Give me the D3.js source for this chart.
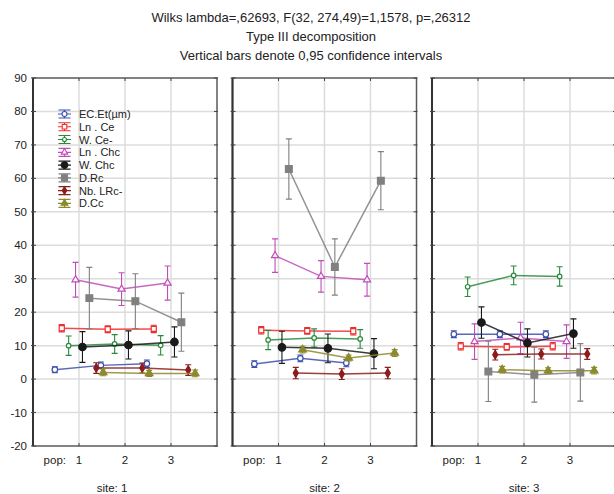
<!DOCTYPE html>
<html>
<head>
<meta charset="utf-8">
<script src="https://cdn.jsdelivr.net/npm/d3@7"></script>
<style>
  body { margin: 0; background: #fff; }
  text { font-family: "Liberation Sans", Arial, sans-serif; fill: #222; }
</style>
</head>
<body>
<div id="chart"></div>
<script>
const titleLines = [
    "Wilks lambda=,62693, F(32, 274,49)=1,1578, p=,26312",
    "Type III decomposition",
    "Vertical bars denote 0,95 confidence intervals"
];
const sites = ["site: 1", "site: 2", "site: 3"];
const pops = [1, 2, 3];
const yTicks = [-20, -10, 0, 10, 20, 30, 40, 50, 60, 70, 80, 90];
const seriesNames = ["EC.Et(µm)", "Ln . Ce", "W. Ce-", "Ln . Chc", "W. Chc", "D.Rc", "Nb. LRc-", "D.Cc"];

// means, one row per series, pop 1..3
const meansSite1 = [
    [2.8, 4.1, 4.6], [15.2, 14.9, 15.0], [10.0, 10.5, 10.1], [29.7, 26.9, 28.7],
    [9.6, 10.2, 11.1], [24.2, 23.3, 17.0], [3.3, 3.3, 2.7], [2.0, 1.7, 1.7]
];
const meansSite2 = [
    [4.5, 6.2, 4.8], [14.6, 14.4, 14.3], [11.7, 12.3, 12.0], [36.9, 30.7, 29.7],
    [9.5, 9.2, 7.6], [62.8, 33.5, 59.3], [1.8, 1.5, 1.8], [8.8, 6.3, 7.8]
];
const meansSite3 = [
    [13.4, 13.4, 13.4], [9.8, 9.6, 9.8], [27.6, 31.0, 30.7], [11.2, 12.3, 11.2],
    [16.9, 10.8, 13.6], [2.3, 1.3, 2.0], [7.3, 7.5, 7.5], [2.8, 2.5, 2.5]
];
// half width of the 0,95 confidence interval
const ciSite1 = [
    [0.9, 1.0, 1.1], [1.1, 1.0, 1.1], [2.9, 2.8, 2.9], [5.2, 4.9, 5.1],
    [4.6, 4.2, 4.5], [9.2, 8.2, 8.7], [1.6, 1.5, 1.6], [1.0, 0.9, 1.0]
];
const ciSite2 = [
    [1.0, 1.0, 1.1], [1.1, 1.0, 1.1], [2.9, 2.7, 2.8], [5.0, 4.7, 4.9],
    [4.8, 4.3, 4.5], [9.0, 8.4, 8.7], [1.7, 1.6, 1.7], [1.0, 0.9, 1.0]
];
const ciSite3 = [
    [1.0, 1.0, 1.0], [1.1, 1.0, 1.1], [2.9, 2.8, 2.9], [5.3, 4.7, 5.0],
    [4.7, 4.2, 4.4], [9.0, 8.2, 8.6], [1.6, 1.5, 1.6], [1.0, 0.9, 1.0]
];
const meansBySite = [meansSite1, meansSite2, meansSite3];
const ciBySite = [ciSite1, ciSite2, ciSite3];

const colors = ["#3a4fb0", "#f02c2c", "#2a8a3c", "#c04cba", "#1a1a1a", "#808080", "#8c1c1c", "#8c8a2c"];
const shapes = [d3.symbolCircle, d3.symbolSquare, d3.symbolCircle, d3.symbolTriangle,
                d3.symbolCircle, d3.symbolSquare, d3.symbolDiamond, d3.symbolTriangle];
const sizes = [24, 26, 16, 22, 44, 46, 22, 26];
const filled = [false, false, false, false, true, true, true, true];

const W = 614, H = 494;
const panelW = 184, gap = 15.5, left0 = 33;
const dodge = 0.15;

const svg = d3.select("#chart").append("svg")
    .attr("width", W)
    .attr("height", H);

svg.selectAll(".title")
    .data(titleLines)
    .enter()
    .append("text")
    .attr("class", "title")
    .attr("x", 311)
    .attr("y", (d, i) => 22 + i * 19)
    .attr("text-anchor", "middle")
    .style("font-size", "13px")
    .text(d => d);

const y = d3.scaleLinear().domain([-20, 90]).range([446, 78]);

// y labels on the first panel only
svg.selectAll(".ylab")
    .data(yTicks)
    .enter()
    .append("text")
    .attr("class", "ylab")
    .attr("x", 27)
    .attr("y", d => y(d) + 4)
    .attr("text-anchor", "end")
    .style("font-size", "11.5px")
    .text(d => d);

sites.forEach((site, si) => {
    const px = left0 + si * (panelW + gap);
    const x = d3.scaleLinear().domain([0, 4]).range([px, px + panelW]);
    const g = svg.append("g");

    // grid
    g.selectAll(".hgrid")
        .data(yTicks.filter(d => d > -20 && d < 90))
        .enter()
        .append("line")
        .attr("x1", x(0)).attr("x2", x(4))
        .attr("y1", d => y(d)).attr("y2", d => y(d))
        .attr("stroke", "#dcdcdc")
        .attr("stroke-width", 1.5);

    g.selectAll(".vgrid")
        .data(pops)
        .enter()
        .append("line")
        .attr("x1", d => x(d)).attr("x2", d => x(d))
        .attr("y1", y(90)).attr("y2", y(-20))
        .attr("stroke", "#dcdcdc")
        .attr("stroke-width", 1.5);

    // frame
    g.append("rect")
        .attr("x", x(0)).attr("y", y(90))
        .attr("width", x(4) - x(0)).attr("height", y(-20) - y(90))
        .attr("fill", "none")
        .attr("stroke", "#5a5a5a")
        .attr("stroke-width", 1.5);
    g.append("line")
        .attr("x1", x(0)).attr("x2", x(0))
        .attr("y1", y(90)).attr("y2", y(-20))
        .attr("stroke", "#333")
        .attr("stroke-width", 2);

    // small ticks on the frame
    g.selectAll(".ytk")
        .data(yTicks)
        .enter()
        .append("path")
        .attr("d", d => `M${x(0) - 2},${y(d)}H${x(0) + 3}M${x(4) - 3},${y(d)}H${x(4) + 1}`)
        .attr("stroke", "#444")
        .attr("stroke-width", 1);
    g.selectAll(".xtk")
        .data(pops)
        .enter()
        .append("path")
        .attr("d", d => `M${x(d)},${y(90)}v3M${x(d)},${y(-20)}v-3`)
        .attr("stroke", "#444")
        .attr("stroke-width", 1);

    // pop labels
    g.selectAll(".poplab")
        .data(pops)
        .enter()
        .append("text")
        .attr("x", d => x(d))
        .attr("y", 464)
        .attr("text-anchor", "middle")
        .style("font-size", "11.5px")
        .text(d => d);
    g.append("text")
        .attr("x", x(1) - 13)
        .attr("y", 464)
        .attr("text-anchor", "end")
        .style("font-size", "11.5px")
        .text("pop:");
    g.append("text")
        .attr("x", si === 0 ? x(2) - 13 : x(2))
        .attr("y", 492)
        .attr("text-anchor", "middle")
        .style("font-size", "11.5px")
        .text(site);

    // series
    const line = d3.line().x(d => d.x).y(d => y(d.m));
    seriesNames.forEach((name, k) => {
        const off = (k - 3.5) * dodge;
        const pts = pops.map((p, j) => ({
            x: x(p + off),
            m: meansBySite[si][k][j],
            ci: ciBySite[si][k][j]
        }));
        const sg = g.append("g");
        sg.append("path")
            .datum(pts)
            .attr("d", line)
            .attr("fill", "none")
            .attr("stroke", colors[k])
            .attr("stroke-opacity", 0.85)
            .attr("stroke-width", 1.5);
        sg.selectAll(".eb")
            .data(pts)
            .enter()
            .append("path")
            .attr("d", d => {
                const t = y(d.m + d.ci), b = y(d.m - d.ci);
                return `M${d.x},${t}V${b}M${d.x - 3},${t}H${d.x + 3}M${d.x - 3},${b}H${d.x + 3}`;
            })
            .attr("fill", "none")
            .attr("stroke", colors[k])
            .attr("stroke-width", 1.1);
        sg.selectAll(".mk")
            .data(pts)
            .enter()
            .append("path")
            .attr("transform", d => `translate(${d.x},${y(d.m)})`)
            .attr("d", d3.symbol().type(shapes[k]).size(sizes[k]))
            .attr("fill", filled[k] ? colors[k] : "#fff")
            .attr("stroke", colors[k])
            .attr("stroke-width", 1.2);
    });
});

// legend inside the first panel
const legend = svg.append("g").attr("transform", "translate(64.5,114)");
const rows = legend.selectAll("g")
    .data(seriesNames)
    .enter()
    .append("g")
    .attr("transform", (d, i) => `translate(0,${i * 12.76})`);
rows.append("path")
    .attr("d", "M-6.5,0H6.5M-6,-4H6M-6,4H6M0,-4V4")
    .attr("stroke", (d, i) => colors[i])
    .attr("stroke-width", 1.2)
    .attr("fill", "none");
rows.append("path")
    .attr("d", (d, i) => d3.symbol().type(shapes[i]).size(sizes[i] * 0.8)())
    .attr("fill", (d, i) => filled[i] ? colors[i] : "#fff")
    .attr("stroke", (d, i) => colors[i])
    .attr("stroke-width", 1.1);
rows.append("text")
    .attr("x", 14.5)
    .attr("y", 4)
    .style("font-size", "11px")
    .text(d => d);
</script>
</body>
</html>
